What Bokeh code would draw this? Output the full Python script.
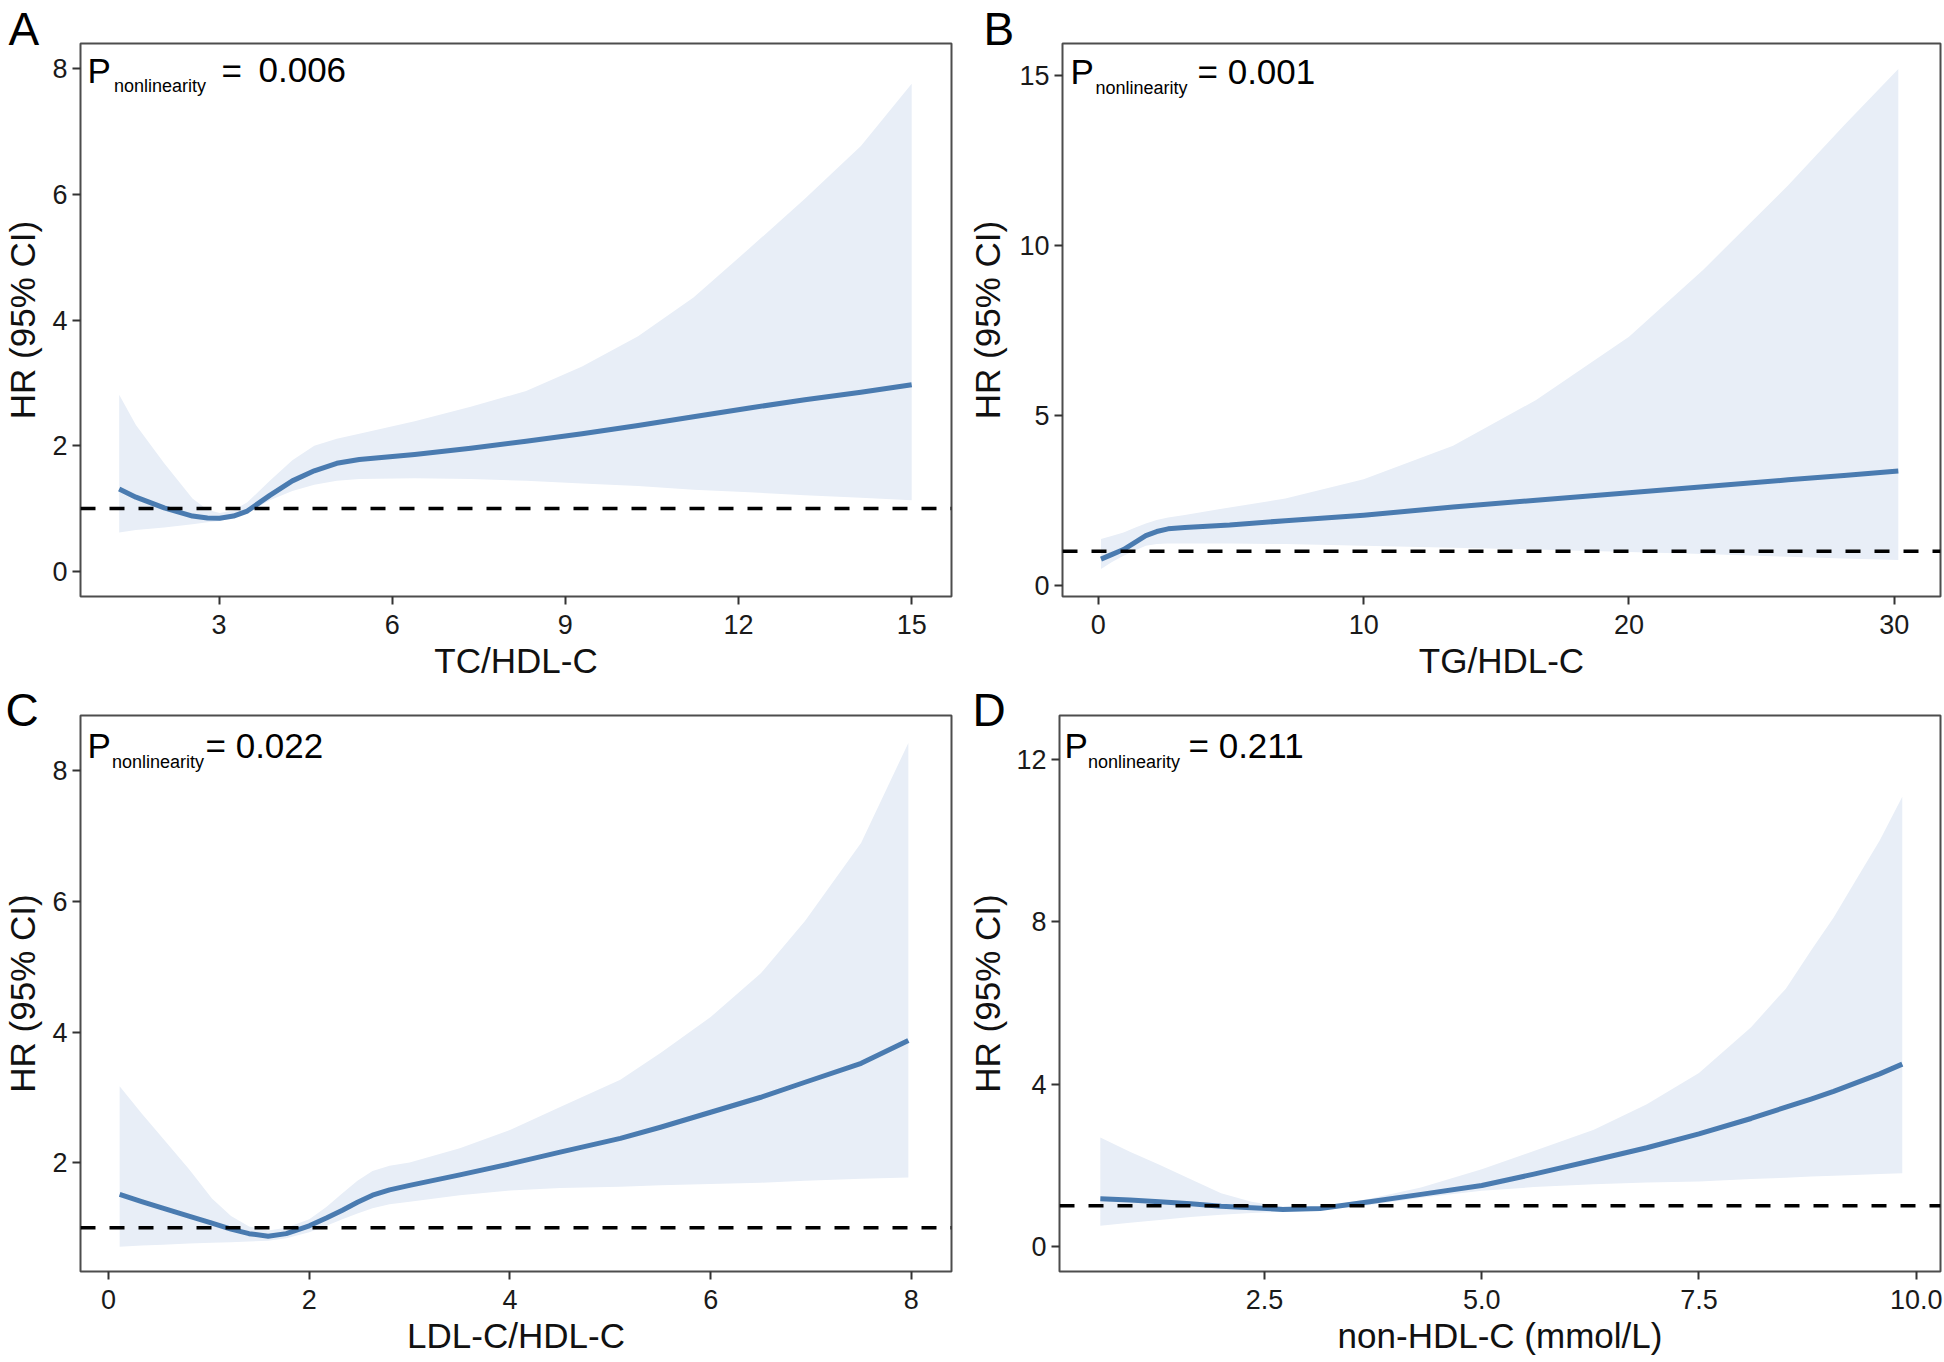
from bokeh.plotting import figure
from bokeh.layouts import column, row
from bokeh.models import Span, Label, FixedTicker, Range1d, Title
from bokeh.embed import file_html
from bokeh.resources import INLINE

# ---------------- data ----------------
# Panel A: TC/HDL-C
a_x = [1.27, 1.56, 2.05, 2.54, 2.8, 3.01, 3.25, 3.49, 3.88, 4.27, 4.65, 5.04, 5.43, 6.39,
       7.36, 8.32, 9.29, 10.26, 11.22, 12.19, 13.15, 14.12, 15.0]
a_hr = [1.31, 1.18, 1.01, 0.88, 0.85, 0.845, 0.88, 0.96, 1.21, 1.44, 1.60, 1.72, 1.78, 1.86,
        1.96, 2.07, 2.19, 2.32, 2.46, 2.60, 2.73, 2.85, 2.97]
a_lo = [0.62, 0.66, 0.70, 0.75, 0.78, 0.80, 0.85, 0.93, 1.13, 1.28, 1.38, 1.44, 1.47, 1.48,
        1.47, 1.44, 1.40, 1.36, 1.30, 1.26, 1.21, 1.17, 1.13]
a_hi = [2.81, 2.33, 1.72, 1.16, 0.98, 0.93, 0.97, 1.10, 1.44, 1.77, 2.00, 2.11, 2.19, 2.39,
        2.62, 2.87, 3.26, 3.74, 4.36, 5.14, 5.93, 6.77, 7.76]

# Panel B: TG/HDL-C
b_x = [0.1, 0.5, 0.95, 1.4, 1.79, 2.2, 2.63, 3.26, 4.95, 7.05, 10.0, 13.37, 16.5, 20.0,
       22.8, 26.0, 28.1, 30.15]
b_hr = [0.77, 0.90, 1.05, 1.27, 1.46, 1.58, 1.66, 1.70, 1.77, 1.90, 2.06, 2.30, 2.50, 2.72,
        2.90, 3.10, 3.23, 3.36]
b_lo = [0.48, 0.68, 0.87, 1.03, 1.16, 1.21, 1.23, 1.23, 1.23, 1.21, 1.16, 1.10, 1.05, 0.98,
        0.92, 0.84, 0.79, 0.74]
b_hi = [1.36, 1.45, 1.55, 1.70, 1.82, 1.92, 1.99, 2.07, 2.29, 2.55, 3.12, 4.10, 5.45, 7.31,
        9.28, 11.76, 13.52, 15.18]

# Panel C: LDL-C/HDL-C
c_x = [0.11, 0.33, 0.54, 0.8, 1.03, 1.22, 1.4, 1.59, 1.77, 2.0, 2.17, 2.33, 2.48, 2.63, 2.8,
       3.0, 3.5, 4.0, 4.5, 5.1, 5.5, 6.0, 6.5, 6.94, 7.5, 7.97]
c_hr = [1.51, 1.40, 1.30, 1.18, 1.07, 0.98, 0.91, 0.87, 0.91, 1.03, 1.15, 1.27, 1.39, 1.50,
        1.58, 1.65, 1.81, 1.98, 2.16, 2.37, 2.54, 2.77, 3.00, 3.23, 3.52, 3.87]
c_lo = [0.71, 0.73, 0.74, 0.76, 0.77, 0.78, 0.79, 0.80, 0.84, 0.93, 1.03, 1.13, 1.22, 1.30,
        1.36, 1.40, 1.50, 1.57, 1.61, 1.63, 1.65, 1.67, 1.69, 1.72, 1.75, 1.77]
c_hi = [3.17, 2.75, 2.37, 1.90, 1.45, 1.18, 1.02, 0.96, 1.00, 1.13, 1.32, 1.53, 1.72, 1.87,
        1.95, 2.00, 2.22, 2.50, 2.85, 3.27, 3.68, 4.23, 4.90, 5.70, 6.90, 8.43]

# Panel D: non-HDL-C (mmol/L)
d_x = [0.61, 0.95, 1.29, 1.65, 2.0, 2.35, 2.71, 3.14, 3.71, 4.3, 5.0, 5.6, 6.29, 6.9, 7.5,
       8.1, 8.5, 8.79, 9.05, 9.3, 9.58, 9.84]
d_hr = [1.17, 1.14, 1.10, 1.05, 0.99, 0.95, 0.91, 0.93, 1.10, 1.28, 1.50, 1.78, 2.12, 2.43,
        2.77, 3.15, 3.43, 3.63, 3.82, 4.02, 4.25, 4.49]
d_lo = [0.51, 0.58, 0.65, 0.72, 0.78, 0.82, 0.85, 0.88, 1.02, 1.20, 1.37, 1.46, 1.53, 1.57,
        1.60, 1.66, 1.69, 1.72, 1.74, 1.76, 1.78, 1.80]
d_hi = [2.68, 2.33, 2.01, 1.65, 1.31, 1.10, 0.98, 0.97, 1.17, 1.45, 1.90, 2.35, 2.87, 3.50,
        4.27, 5.40, 6.35, 7.29, 8.10, 9.00, 10.00, 11.08]

# tick values and labels
a_xticks, a_xlabels = [3, 6, 9, 12, 15], ["3", "6", "9", "12", "15"]
a_yticks, a_ylabels = [0, 2, 4, 6, 8], ["0", "2", "4", "6", "8"]
b_xticks, b_xlabels = [0, 10, 20, 30], ["0", "10", "20", "30"]
b_yticks, b_ylabels = [0, 5, 10, 15], ["0", "5", "10", "15"]
c_xticks, c_xlabels = [0, 2, 4, 6, 8], ["0", "2", "4", "6", "8"]
c_yticks, c_ylabels = [2, 4, 6, 8], ["2", "4", "6", "8"]
d_xticks, d_xlabels = [2.5, 5.0, 7.5, 10.0], ["2.5", "5.0", "7.5", "10.0"]
d_yticks, d_ylabels = [0, 4, 8, 12], ["0", "4", "8", "12"]

panel_letters = ["A", "B", "C", "D"]
x_titles = ["TC/HDL-C", "TG/HDL-C", "LDL-C/HDL-C", "non-HDL-C (mmol/L)"]
y_title = "HR (95% CI)"
p_values = ["0.006", "0.001", "0.022", "0.211"]
reference_hr = 1

# ---------------- style ----------------
FONT = "Liberation Sans"
LINE_COLOR = "#4a7bb0"
BAND_COLOR = "#e8eef7"
FRAME_COLOR = "#4d4d4d"
FRAME_H = 556


def make_panel(x, hr, lo, hi, xr, yr, xt, xl, yt, yl, xtitle, letter, pval,
               width, height, mb, y_standoff, letter_cfg, ptxt):
    p = figure(width=width, height=height, output_backend="svg", toolbar_location=None,
               x_range=Range1d(*xr), y_range=Range1d(*yr),
               min_border_left=mb[0], min_border_right=mb[1],
               min_border_top=mb[2], min_border_bottom=mb[3])
    p.background_fill_color = "white"
    p.border_fill_color = "white"
    p.grid.visible = False
    p.outline_line_color = FRAME_COLOR
    p.outline_line_width = 2

    # panel letter as a title with negative standoff so it stays in the top border
    loff, lstand = letter_cfg
    p.title = Title(text=letter, align="left", offset=loff, vertical_align="bottom",
                    standoff=lstand, text_font=FONT, text_font_size="46px",
                    text_font_style="normal", text_color="black")

    p.varea(x=x, y1=lo, y2=hi, fill_color=BAND_COLOR, fill_alpha=1.0)
    p.line(x=x, y=hr, line_color=LINE_COLOR, line_width=5, line_join="round")
    p.add_layout(Span(location=reference_hr, dimension="width", line_color="black",
                      line_width=3.5, line_dash="15 14"))

    for ax, ticks, labels in ((p.xaxis[0], xt, xl), (p.yaxis[0], yt, yl)):
        ax.ticker = FixedTicker(ticks=ticks)
        ax.major_label_overrides = {t: s for t, s in zip(ticks, labels)}
        ax.axis_line_color = None
        ax.major_tick_line_color = "#333333"
        ax.major_tick_line_width = 2
        ax.major_tick_out = 8
        ax.major_tick_in = 0
        ax.minor_tick_line_color = None
        ax.major_label_text_font = FONT
        ax.major_label_text_font_size = "27px"
        ax.major_label_text_color = "#1a1a1a"
        ax.axis_label_text_font = FONT
        ax.axis_label_text_font_size = "35px"
        ax.axis_label_text_font_style = "normal"
        ax.axis_label_text_color = "#111111"
    p.xaxis[0].axis_label = xtitle
    p.yaxis[0].axis_label = y_title
    p.xaxis[0].major_label_standoff = 10
    p.xaxis[0].axis_label_standoff = 4
    p.yaxis[0].major_label_standoff = 5
    p.yaxis[0].axis_label_standoff = y_standoff

    # P_nonlinearity annotation (screen units relative to the frame; y = glyph centre)
    px, pc, sx, sc, ex, vx = ptxt
    common = dict(x_units="screen", y_units="screen", text_font=FONT,
                  text_color="black", text_baseline="middle", text_align="left")
    p.add_layout(Label(x=px, y=FRAME_H - pc, text="P", text_font_size="35px", **common))
    p.add_layout(Label(x=sx, y=FRAME_H - sc, text="nonlinearity", text_font_size="18px", **common))
    if vx is None:
        p.add_layout(Label(x=ex, y=FRAME_H - pc, text="= " + pval, text_font_size="35px", **common))
    else:
        p.add_layout(Label(x=ex, y=FRAME_H - pc, text="=", text_font_size="35px", **common))
        p.add_layout(Label(x=vx, y=FRAME_H - pc, text=pval, text_font_size="35px", **common))
    return p


pA = make_panel(a_x, a_hr, a_lo, a_hi, (0.60, 15.69), (-0.40, 8.40),
                a_xticks, a_xlabels, a_yticks, a_ylabels, x_titles[0], panel_letters[0], p_values[0],
                965, 682, (78, 14, 43, 83), 7, (-72, -22),
                (7, 29.5, 33.5, 45.5, 141, 178))
pB = make_panel(b_x, b_hr, b_lo, b_hi, (-1.35, 31.74), (-0.33, 15.93),
                b_xticks, b_xlabels, b_yticks, b_ylabels, x_titles[1], panel_letters[1], p_values[1],
                979, 682, (97, 4, 43, 83), 9, (-79, -22),
                (8, 30.5, 33, 47, 135, None))
pC = make_panel(c_x, c_hr, c_lo, c_hi, (-0.28, 8.40), (0.33, 8.85),
                c_xticks, c_xlabels, c_yticks, c_ylabels, x_titles[2], panel_letters[2], p_values[2],
                965, 680, (79, 14, 33, 91), 7, (-75, -40),
                (7, 30, 31.5, 46, 125, None))
pD = make_panel(d_x, d_hr, d_lo, d_hi, (0.14, 10.28), (-0.62, 13.08),
                d_xticks, d_xlabels, d_yticks, d_ylabels, x_titles[3], panel_letters[3], p_values[3],
                979, 680, (94, 4, 33, 91), 6, (-87, -40),
                (5, 30, 28.5, 46, 129, None))

layout = column(row(pA, pB), row(pC, pD))
open("out.html", "w").write(file_html(layout, INLINE))
